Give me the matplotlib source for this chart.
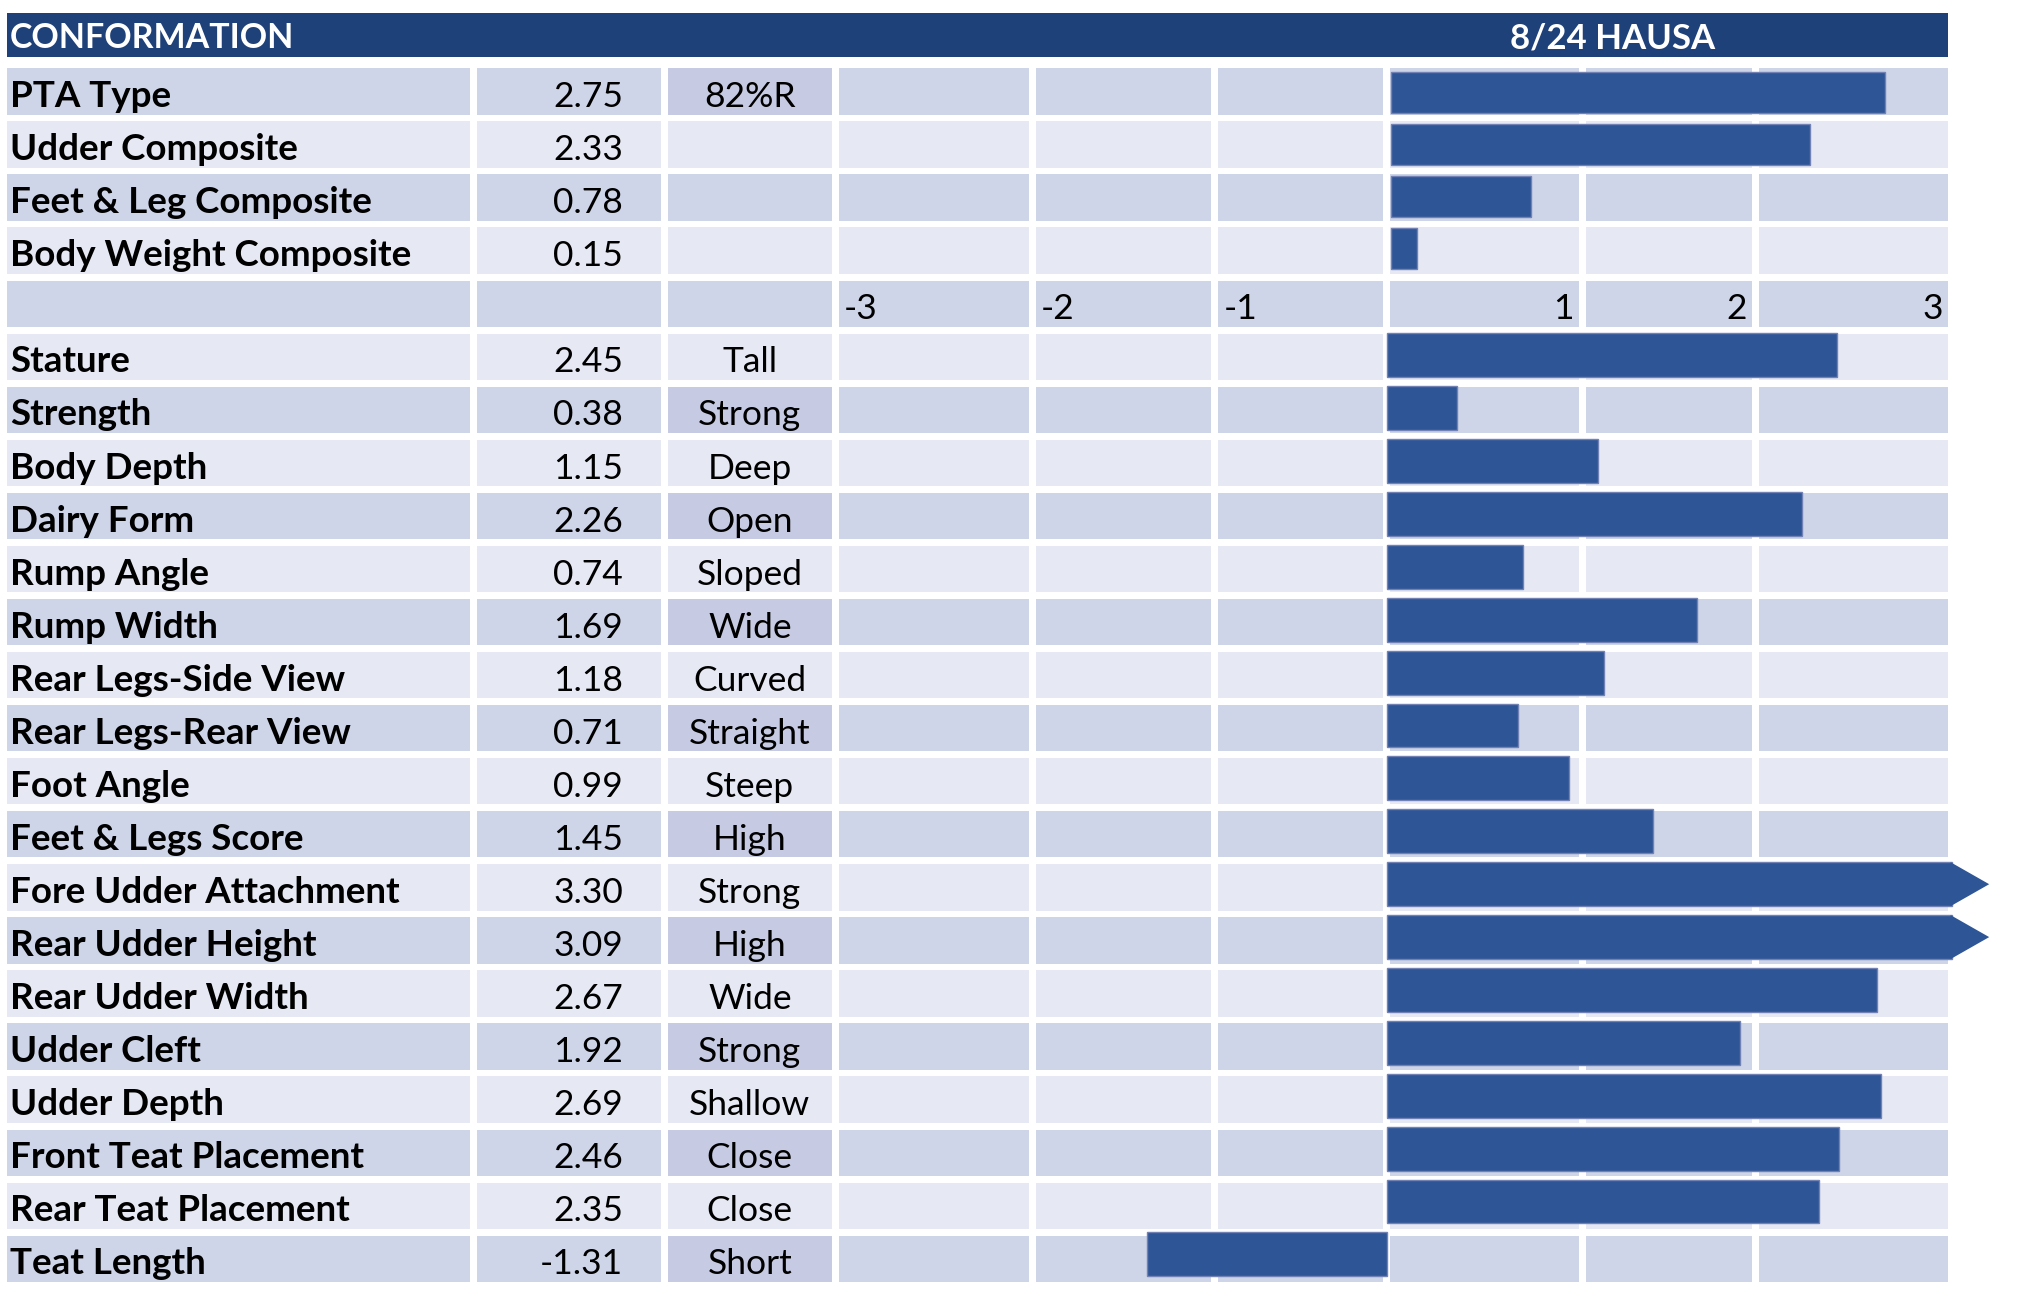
import numpy as np
import matplotlib.pyplot as plt
from matplotlib.patches import Rectangle

plt.rcParams['font.family'] = ['Lato', 'DejaVu Sans']

title_left = 'CONFORMATION'
title_right = '8/24 HAUSA'

comp_names = ['PTA Type', 'Udder Composite', 'Feet & Leg Composite', 'Body Weight Composite']
comp_values = [2.75, 2.33, 0.78, 0.15]
comp_notes = ['82%R', '', '', '']

trait_names = ['Stature', 'Strength', 'Body Depth', 'Dairy Form', 'Rump Angle', 'Rump Width',
               'Rear Legs-Side View', 'Rear Legs-Rear View', 'Foot Angle', 'Feet & Legs Score',
               'Fore Udder Attachment', 'Rear Udder Height', 'Rear Udder Width', 'Udder Cleft',
               'Udder Depth', 'Front Teat Placement', 'Rear Teat Placement', 'Teat Length']
trait_values = [2.45, 0.38, 1.15, 2.26, 0.74, 1.69, 1.18, 0.71, 0.99, 1.45,
                3.30, 3.09, 2.67, 1.92, 2.69, 2.46, 2.35, -1.31]
trait_desc = ['Tall', 'Strong', 'Deep', 'Open', 'Sloped', 'Wide', 'Curved', 'Straight', 'Steep',
              'High', 'Strong', 'High', 'Wide', 'Strong', 'Shallow', 'Close', 'Close', 'Short']

tick_left = ['-3', '-2', '-1']
tick_right = ['1', '2', '3']

# colours
HEADER = '#1F4179'
BAR = '#2E5596'
BAR_EDGE = '#7282B4'
DARK = '#CFD5E8'
DARK_DESC = '#C6CBE3'
LIGHT = '#E6E9F3'

AXIS_MAX = 3.08   # bars longer than this get an arrow head
ARROW = 0.2

W, H = 2020, 1297
fig = plt.figure(figsize=(W / 100, H / 100), dpi=100)
ax = fig.add_axes([0, 0, 1, 1])
ax.set_xlim(0, W)
ax.set_ylim(H, 0)
ax.axis('off')

# spreadsheet-like grid (pixel layout)
cols = [(6.7, 470), (476.7, 661), (667.7, 832), (839, 1029), (1036, 1211),
        (1218.3, 1383.3), (1390, 1579), (1586, 1752), (1759, 1948)]
row_top0, pitch, cell_h = 68.3, 53.06, 46.3
FS_NAME = 26.5
FS = 25.5
PAD = 7.5

# header
ax.add_patch(Rectangle((6.7, 13), 1948 - 6.7, 44, color=HEADER, lw=0))
ax.text(10, 48, title_left, color='white', fontsize=24.5, fontweight='bold', va='baseline')
ax.text(1613, 48, title_right, color='white', fontsize=25, fontweight='bold',
        va='baseline', ha='center')

names = comp_names + [''] + trait_names
vals = [f'{v:.2f}' for v in comp_values] + [''] + [f'{v:.2f}' for v in trait_values]
descs = comp_notes + [''] + trait_desc

for r in range(len(names)):
    top = row_top0 + r * pitch
    dark = r % 2 == 0
    for ci, (x0, x1) in enumerate(cols):
        if dark:
            c = DARK_DESC if (ci == 2 and descs[r]) else DARK
        else:
            c = LIGHT
        ax.add_patch(Rectangle((x0, top), x1 - x0, cell_h, color=c, lw=0))
    base = top + cell_h - PAD
    ax.text(10, base, names[r], fontsize=FS_NAME, fontweight='bold', va='baseline')
    ax.text(623, base, vals[r], fontsize=FS, va='baseline', ha='right')
    ax.text((cols[2][0] + cols[2][1]) / 2, base, descs[r], fontsize=FS, va='baseline', ha='center')

# axis label row
base = row_top0 + 4 * pitch + cell_h - PAD
for lab, (x0, x1) in zip(tick_left, cols[3:6]):
    ax.text(x0 + 5, base, lab, fontsize=FS, va='baseline', ha='left')
for lab, (x0, x1) in zip(tick_right, cols[6:9]):
    ax.text(x1 - 5, base, lab, fontsize=FS, va='baseline', ha='right')


def bar_axes(yc0, bpitch, n, zero_px, px_unit):
    x0, x1 = 839, 2020
    top = yc0 - bpitch / 2
    bottom = top + n * bpitch
    bax = fig.add_axes([x0 / W, 1 - bottom / H, (x1 - x0) / W, (bottom - top) / H])
    bax.set_xlim((x0 - zero_px) / px_unit, (x1 - zero_px) / px_unit)
    bax.set_ylim(n - 0.5, -0.5)
    bax.axis('off')
    bax.patch.set_alpha(0)
    return bax


def draw_bars(bax, values, h):
    values = np.array(values)
    y = np.arange(len(values))
    bax.barh(y, np.minimum(values, AXIS_MAX), height=h, color=BAR,
             edgecolor=BAR_EDGE, linewidth=1)
    for i, v in enumerate(values):
        if v > AXIS_MAX:
            bax.fill([AXIS_MAX - 0.01, AXIS_MAX + ARROW, AXIS_MAX - 0.01],
                     [i - h / 2, i, i + h / 2], color=BAR, lw=0)


bax_top = bar_axes(92.8, 51.8, len(comp_values), 1390.5, 179.9)
draw_bars(bax_top, comp_values, 0.79)

bax_bot = bar_axes(355.3, 52.89, len(trait_values), 1387.3, 183.5)
draw_bars(bax_bot, trait_values, 0.83)

fig.savefig('out.png', dpi=100, facecolor='white')
